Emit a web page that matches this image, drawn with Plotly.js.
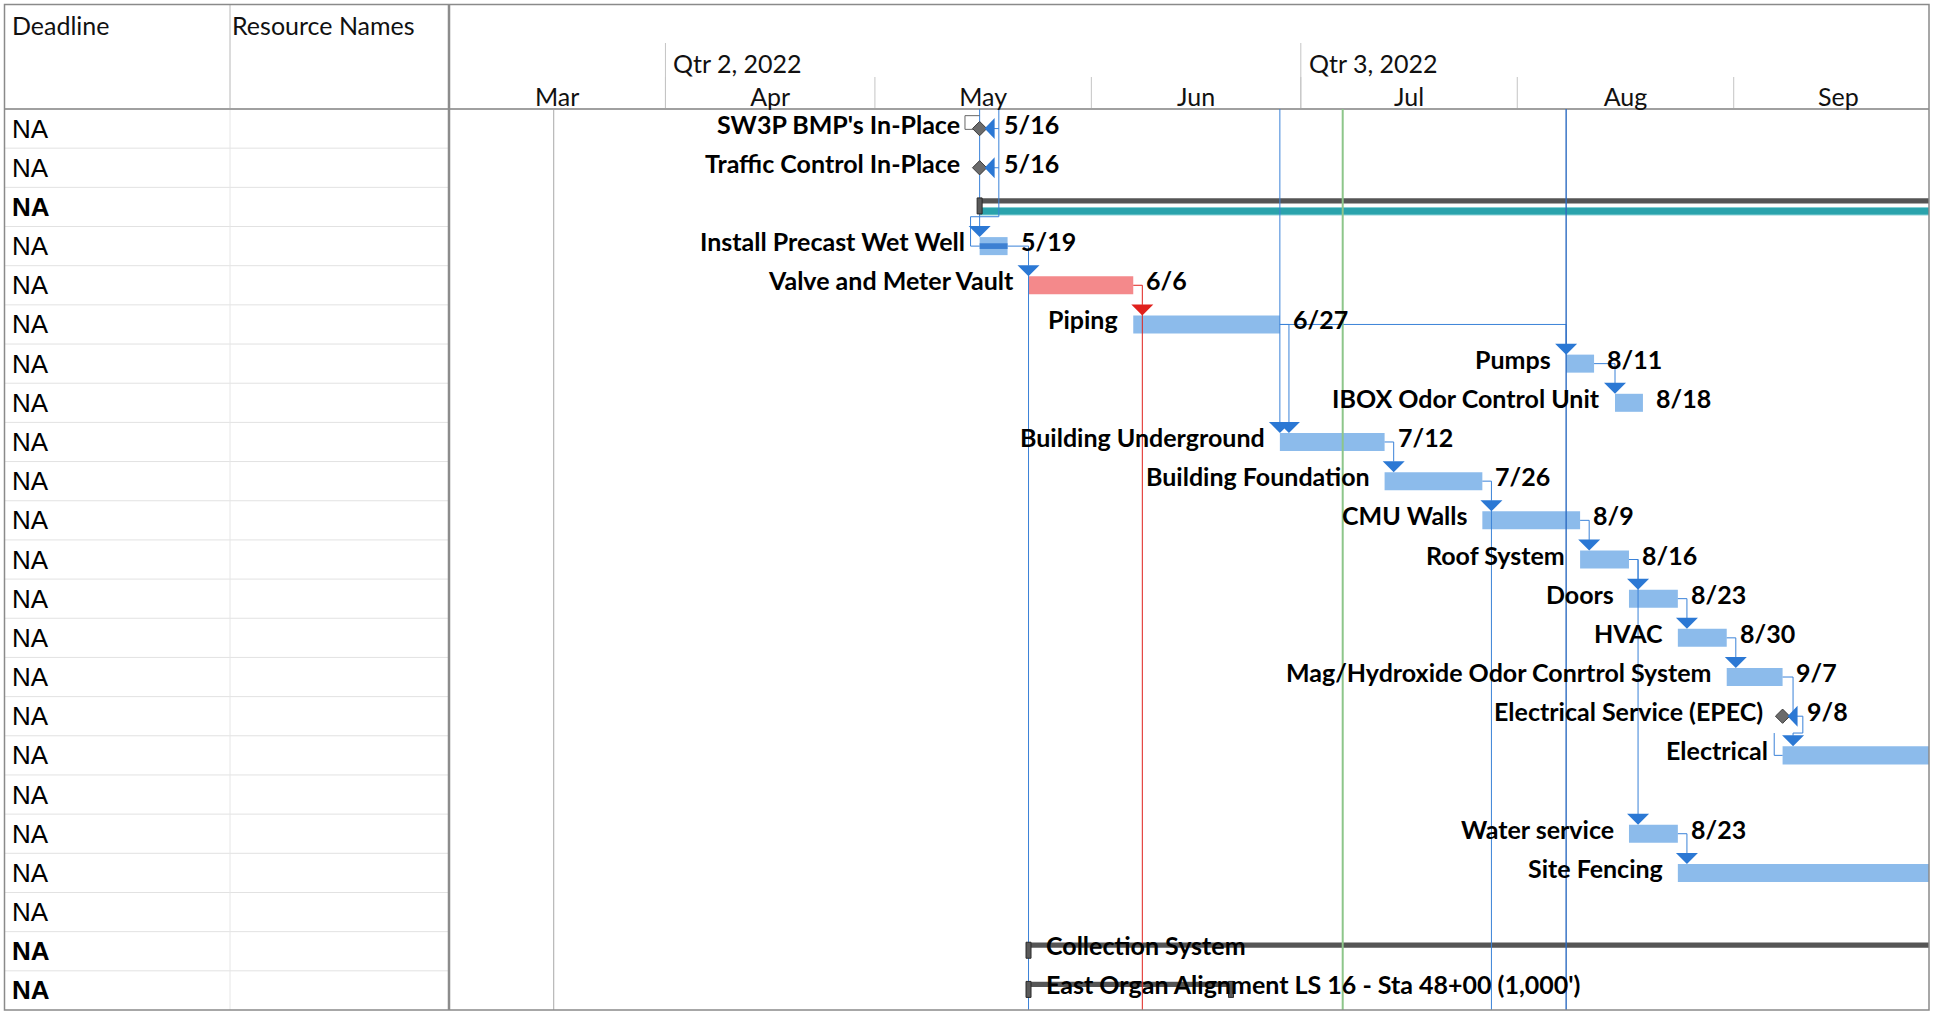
<!DOCTYPE html>
<html><head><meta charset="utf-8">
<script src="https://cdn.plot.ly/plotly-3.0.1.min.js"></script>
<style>html,body{margin:0;padding:0;background:#fff;overflow:hidden}#chart{width:1939px;height:1011px}</style>
</head><body><div id="chart"></div>
<script>
// ---------------- data ----------------
const taskNames = ["SW3P BMP's In-Place","Traffic Control In-Place","","Install Precast Wet Well","Valve and Meter Vault","Piping","Pumps","IBOX Odor Control Unit","Building Underground","Building Foundation","CMU Walls","Roof System","Doors","HVAC","Mag/Hydroxide Odor Conrtrol System","Electrical Service (EPEC)","Electrical","","Water service","Site Fencing","","Collection System","East Organ Alignment LS 16 - Sta 48+00 (1,000')"];
const taskKind = ['milestone','milestone','project','task','critical','task','task','task','task','task','task','task','task','task','task','milestone','task','none','task','task','none','summary','summary'];
const taskStart = ['2022-05-16','2022-05-16','2022-05-16','2022-05-16','2022-05-23','2022-06-07','2022-08-08','2022-08-15','2022-06-28','2022-07-13','2022-07-27','2022-08-10','2022-08-17','2022-08-24','2022-08-31','2022-09-08','2022-09-08',null,'2022-08-17','2022-08-24',null,'2022-05-23','2022-05-23'];
const taskEnd = ['2022-05-16','2022-05-16','2022-12-31','2022-05-20','2022-06-07','2022-06-28','2022-08-12','2022-08-19','2022-07-13','2022-07-27','2022-08-10','2022-08-17','2022-08-24','2022-08-31','2022-09-08','2022-09-08','2022-10-31',null,'2022-08-24','2022-10-31',null,'2022-12-31','2022-06-21'];
const finishLabels = ['5/16','5/16','','5/19','6/6','6/27','8/11','8/18','7/12','7/26','8/9','8/16','8/23','8/30','9/7','9/8','','','8/23','','','',''];
const pctComplete = [0,0,0,100,0,0,0,0,0,0,0,0,0,0,0,0,0,0,0,0,0,0,0];
const deadlineCol = ['NA','NA','NA','NA','NA','NA','NA','NA','NA','NA','NA','NA','NA','NA','NA','NA','NA','NA','NA','NA','NA','NA','NA'];
const resourceCol = ['','','','','','','','','','','','','','','','','','','','','','',''];
const boldRows = [2,21,22];
const columnHeaders = ['Deadline','Resource Names'];
const monthNames = ['Mar','Apr','May','Jun','Jul','Aug','Sep'];
const monthStarts = ['2022-03-01','2022-04-01','2022-05-01','2022-06-01','2022-07-01','2022-08-01','2022-09-01','2022-10-01'];
const quarterNames = ['Qtr 2, 2022','Qtr 3, 2022'];
const quarterStarts = ['2022-04-01','2022-07-01'];
const timescaleRange = ['2022-03-01 00:00','2022-09-28 23:17'];
const statusDate = '2022-07-07';
const markerDate = '2022-03-16';
// finish-to-start links [predecessor row, successor row]
const links = [[3,4],[4,5],[5,6],[5,8],[6,7],[8,9],[9,10],[10,11],[11,12],[11,18],[12,13],[13,14],[18,19],[14,15],[15,16]];
const criticalLinks = ['4-5'];
const linksContinuingDown = [3,4,9];          // predecessors whose link line runs on past the view
const linksFromAbove = [{to:3},{to:8},{to:6,through:true}];
const milestoneFeed = {targets:[0,1], joins:3};

// ---------------- geometry helpers ----------------
const W=1939,H=1011,L=449,R=1929,T=109,B=1010;
const px = x => (x-L)/(R-L);
const py = y => (B-y)/(B-T);
const DAY = 86400000;
const ms = d => Date.parse(d.length===10 ? d+'T00:00:00Z' : d.replace(' ','T')+':00Z');
const iso = v => new Date(v).toISOString().slice(0,19).replace('T',' ');
const STUB = 1.3*DAY;
const nRows = taskNames.length;
const rowsOf = k => taskKind.map((t,i)=>t===k?i:-1).filter(i=>i>=0);

const LABEL_FONT = {family:'Lato, sans-serif', size:25, color:'#000', weight:700};
const HEAD_FONT = {family:'Lato, sans-serif', size:25, color:'#111'};
const BLUE='#3A82D8', ARROW='#2B78D4', RED='#E0201C';

const traces = [];
function barTrace(rows, color, width, offset, lineColor){
  return {type:'bar', orientation:'h', y:rows, base:rows.map(i=>taskStart[i]),
    x:rows.map(i=>ms(taskEnd[i])-ms(taskStart[i])), width:width, offset:offset,
    marker:{color:color, line:{color:lineColor||color, width:lineColor?1:0}}, hoverinfo:'skip', showlegend:false};
}
traces.push(barTrace(rowsOf('task'), '#8CBBEB', 0.46, -0.23));
traces.push(barTrace(rowsOf('critical'), '#F4898B', 0.46, -0.23));
const progRows = pctComplete.map((p,i)=>p>0?i:-1).filter(i=>i>=0);
traces.push({type:'bar', orientation:'h', y:progRows, base:progRows.map(i=>taskStart[i]),
  x:progRows.map(i=>(ms(taskEnd[i])-ms(taskStart[i]))*pctComplete[i]/100), width:0.145, offset:-0.0725,
  marker:{color:'#3D80D2'}, hoverinfo:'skip', showlegend:false});
const sumRows = taskKind.map((t,i)=>(t==='summary'||t==='project')?i:-1).filter(i=>i>=0);
traces.push(barTrace(sumRows, '#555555', 0.13, -0.22));
traces.push(barTrace(rowsOf('project'), '#2AA3AC', 0.19, 0.015, '#86CFD4'));

// links
const blueX=[],blueY=[],redX=[],redY=[],darkX=[],darkY=[],grayX=[],grayY=[];
const shapesArrows=[];
function addPath(pts, tx, ty){ pts.forEach(p=>{tx.push(iso(p[0]));ty.push(p[1]);}); tx.push(null); ty.push(null); }
function downArrow(x, row, color){
  shapesArrows.push({type:'path', xref:'x', yref:'y', xsizemode:'pixel', ysizemode:'pixel',
    xanchor:iso(x), yanchor:row, path:'M -11,20 L 11,20 L 0,9 Z', fillcolor:color, line:{width:0}, layer:'above'});
}
function leftArrow(x, row, color){
  shapesArrows.push({type:'path', xref:'x', yref:'y', xsizemode:'pixel', ysizemode:'pixel',
    xanchor:iso(x), yanchor:row, path:'M 5,0 L 15,10.5 L 15,-10.5 Z', fillcolor:color, line:{width:0}, layer:'above'});
}
links.forEach(([p,s])=>{
  const crit = criticalLinks.includes(p+'-'+s);
  const tx = crit?redX:blueX, ty = crit?redY:blueY;
  const pe = ms(taskEnd[p]), ss = ms(taskStart[s]);
  if(taskKind[s]==='milestone'){
    const x = pe + 1.5*DAY;
    addPath([[pe,p],[x,p],[x,s],[ss+2*DAY,s]], tx, ty);
    leftArrow(ss, s, ARROW);
    return;
  }
  if(taskKind[p]==='milestone'){
    const x1 = pe + 1.5*DAY, x2 = pe + 2.9*DAY, yl = s-0.57;
    addPath([[pe+2*DAY,p],[x2,p],[x2,yl],[x1,yl],[x1,s-0.5]], tx, ty);
    addPath([[pe-1.2*DAY,yl],[pe-1.2*DAY,s],[ss,s]], tx, ty);
    downArrow(x1, s, ARROW);
    return;
  }
  const x = Math.max(ss, pe+STUB);
  addPath([[pe,p],[x,p],[x,s-0.5]], tx, ty);
  downArrow(x, s, crit?RED:ARROW);
  if(linksContinuingDown.includes(p)){
    addPath([[x,s-0.3],[x,nRows-0.5]], tx, ty);
  }
});
linksFromAbove.forEach(f=>{
  const x = ms(taskStart[f.to]);
  if(f.through){ addPath([[x,-0.5],[x,nRows-0.5]], darkX, darkY); }
  else { addPath([[x,-0.5],[x,f.to-0.5]], blueX, blueY); downArrow(x, f.to, ARROW); }
});
(function(){
  const m = ms(taskStart[milestoneFeed.targets[0]]);
  const j = milestoneFeed.joins, yl = j-0.75;
  const xr = m + 2.75*DAY, xl = ms(taskStart[j]) - 1.3*DAY;
  addPath([[xr,-0.5],[xr,yl],[xl,yl],[xl,j],[ms(taskStart[j]),j]], blueX, blueY);
  milestoneFeed.targets.forEach(r=>{ addPath([[xr,r],[ms(taskStart[r])+2*DAY,r]], blueX, blueY); leftArrow(ms(taskStart[r]), r, ARROW); });
  const r0 = milestoneFeed.targets[0];
  addPath([[m-0.7*DAY,r0+0.02],[m-2.1*DAY,r0+0.02],[m-2.1*DAY,r0-0.33],[m,r0-0.33]], grayX, grayY);
})();
traces.push({type:'scatter', mode:'lines', x:blueX, y:blueY, line:{color:BLUE,width:1}, hoverinfo:'skip', showlegend:false});
traces.push({type:'scatter', mode:'lines', x:darkX, y:darkY, line:{color:'#2D6CC2',width:1.4}, hoverinfo:'skip', showlegend:false});
traces.push({type:'scatter', mode:'lines', x:redX, y:redY, line:{color:RED,width:1}, hoverinfo:'skip', showlegend:false});
traces.push({type:'scatter', mode:'lines', x:grayX, y:grayY, line:{color:'#666',width:1}, hoverinfo:'skip', showlegend:false});
const msRows = rowsOf('milestone');
traces.push({type:'scatter', mode:'markers', x:msRows.map(i=>taskStart[i]), y:msRows,
  marker:{symbol:'diamond', size:11, color:'#6B6B6B', line:{color:'#3c3c3c', width:1}}, hoverinfo:'skip', showlegend:false, cliponaxis:false});

// ---------------- annotations ----------------
const ann = [];
deadlineCol.forEach((t,i)=>ann.push({xref:'paper', yref:'y', x:px(10), y:i, xanchor:'left', yanchor:'middle', showarrow:false, yshift:0,
  text:t, font:{family:'Liberation Sans, Arial, sans-serif', size:26, color:'#000', weight: boldRows.includes(i)?700:400}}));
resourceCol.forEach((t,i)=>{ if(t) ann.push({xref:'paper', yref:'y', x:px(232), y:i, xanchor:'left', showarrow:false, text:t, font:HEAD_FONT}); });
ann.push({xref:'paper', yref:'paper', x:px(10), y:py(25), xanchor:'left', yanchor:'middle', showarrow:false, text:columnHeaders[0], font:HEAD_FONT});
ann.push({xref:'paper', yref:'paper', x:px(230), y:py(25), xanchor:'left', yanchor:'middle', showarrow:false, text:columnHeaders[1], font:HEAD_FONT});
quarterNames.forEach((q,i)=>ann.push({xref:'x', yref:'paper', x:quarterStarts[i], xshift:6, y:py(63), xanchor:'left', yanchor:'middle', showarrow:false, text:q, font:HEAD_FONT}));
taskNames.forEach((n,i)=>{
  if(!n) return;
  const k = taskKind[i];
  if(k==='summary'){
    ann.push({xref:'x', yref:'y', x:taskStart[i], y:i, xanchor:'left', yanchor:'middle', xshift:15, yshift:6, showarrow:false, text:n, font:LABEL_FONT});
    return;
  }
  ann.push({xref:'x', yref:'y', x:taskStart[i], y:i, xanchor:'right', yanchor:'middle', xshift:(k==='milestone'?-18:-13), yshift:5, showarrow:false, text:n, font:LABEL_FONT});
  if(finishLabels[i]) ann.push({xref:'x', yref:'y', x:taskEnd[i], y:i, xanchor:'left', yanchor:'middle', xshift:(k==='milestone'?22:11), yshift:5, showarrow:false, text:finishLabels[i], font:LABEL_FONT});
});

// ---------------- shapes (grid / table frame / timescale) ----------------
const shapes = [];
const ln = (o)=>Object.assign({type:'line', layer:'below'}, o);
for(let k=1;k<nRows;k++) shapes.push(ln({xref:'paper', yref:'y', x0:px(5), x1:0, y0:k-0.5, y1:k-0.5, line:{color:'#E2E2E2', width:1}}));
shapes.push(ln({xref:'paper', yref:'paper', x0:px(230), x1:px(230), y0:0, y1:1, line:{color:'#E6E6E6', width:1}}));
shapes.push(ln({xref:'paper', yref:'paper', x0:px(230), x1:px(230), y0:1, y1:py(4), line:{color:'#B8B8B8', width:1}}));
quarterStarts.forEach(q=>shapes.push(ln({xref:'x', yref:'paper', x0:q, x1:q, y0:1, y1:py(43), line:{color:'#C4C4C4', width:1}})));
monthStarts.slice(1,-1).forEach(m=>shapes.push(ln({xref:'x', yref:'paper', x0:m, x1:m, y0:1, y1:py(77), line:{color:'#C4C4C4', width:1}})));
shapes.push(ln({xref:'x', yref:'paper', x0:markerDate, x1:markerDate, y0:0, y1:1, line:{color:'#A8A8A8', width:1}}));
shapes.push(Object.assign(ln({xref:'x', yref:'paper', x0:statusDate, x1:statusDate, y0:0, y1:1, line:{color:'#8DC68A', width:2}}),{layer:'above'}));
shapes.push(ln({xref:'paper', yref:'paper', x0:px(4), x1:1, y0:1, y1:1, line:{color:'#A0A0A0', width:2}}));
shapes.push(ln({xref:'paper', yref:'paper', x0:0, x1:0, y0:0, y1:py(4), line:{color:'#8C8C8C', width:2.5}}));
shapes.push({type:'rect', xref:'paper', yref:'paper', x0:px(4.5), x1:1, y0:0, y1:py(4.5), line:{color:'#8A8A8A', width:1.5}, layer:'above'});
sumRows.forEach(i=>{
  const caps=[taskStart[i]];
  if(ms(taskEnd[i]) < ms(timescaleRange[1])) caps.push(taskEnd[i]);
  caps.forEach(c=>shapes.push({type:'rect', xref:'x', yref:'y', xsizemode:'pixel', ysizemode:'pixel', xanchor:c, yanchor:i,
    x0:-2.5, x1:2.5, y0:-7, y1:9, fillcolor:'#5A5A5A', line:{color:'#2A2A2A', width:1}, layer:'above'}));
});

const tickvals = monthNames.map((m,i)=>iso((ms(monthStarts[i])+ms(monthStarts[i+1]))/2));
const layout = {
  width:W, height:H, margin:{l:L, r:W-R, t:T, b:H-B}, paper_bgcolor:'#fff', plot_bgcolor:'#fff',
  barmode:'overlay', showlegend:false, font:{family:'Lato, sans-serif'},
  xaxis:{type:'date', range:timescaleRange, side:'top', tickvals:tickvals, ticktext:monthNames, ticks:'', ticklabelstandoff:-3,
    showgrid:false, zeroline:false, showline:false, tickfont:{family:'Lato, sans-serif', size:25, color:'#111'}, fixedrange:true},
  yaxis:{range:[nRows-0.5,-0.5], showticklabels:false, showgrid:false, zeroline:false, showline:false, ticks:'', fixedrange:true},
  shapes: shapes.concat(shapesArrows), annotations: ann
};
Plotly.newPlot('chart', traces, layout, {staticPlot:true, displayModeBar:false});
</script></body></html>
